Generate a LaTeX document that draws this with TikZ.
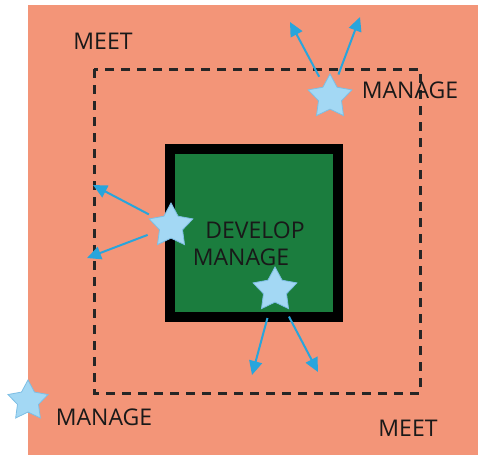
\documentclass[tikz,border=0pt]{standalone}
\usepackage{fontspec}
\setmainfont{Open Sans}
\usetikzlibrary{shapes.geometric,arrows.meta}
\definecolor{salmon}{RGB}{243,149,120}
\definecolor{devgreen}{RGB}{27,125,62}
\definecolor{starfill}{RGB}{163,216,244}
\definecolor{starline}{RGB}{125,190,228}
\definecolor{flowblue}{RGB}{40,165,220}

\begin{document}
\begin{tikzpicture}[x=1pt,y=-1pt,
  mstar/.style={star, star points=5, star point ratio=1.9, minimum size=46pt,
    inner sep=0pt, fill=starfill, draw=starline, line width=0.8pt},
  flow/.style={flowblue, line width=2pt, -{Triangle[length=14pt,width=13pt]},
    shorten <=#1},
  word/.style={font=\fontsize{23}{26}\selectfont, inner sep=0pt, text=black!90}]
  \useasboundingbox (0,0) rectangle (478,459);

  % outer field
  \fill[salmon] (28,5) rectangle (478,455);

  % dashed boundary
  \draw[black!85, line width=3pt, dash pattern=on 9pt off 7pt] (94,69) rectangle (420,393);

  % the developed square
  \draw[line width=10pt, fill=devgreen] (170,149) rectangle (338,317);

  % stars
  \node[mstar] (sa) at (330,97) {};
  \node[mstar] (sb) at (171,226) {};
  \node[mstar] (sc) at (275,290) {};
  \node[mstar, minimum size=42pt] (sd) at (28,401) {};

  % arrow ends
  \coordinate (ta1) at (290,22);
  \coordinate (ta2) at (360,17);
  \coordinate (tb1) at (93,185);
  \coordinate (tb2) at (87,258);
  \coordinate (tc1) at (252,375);
  \coordinate (tc2) at (318,372);

  \foreach \s/\t/\g in {sa/ta1/23pt, sa/ta2/24pt, sb/tb1/25pt, sb/tb2/25pt,
                        sc/tc1/29pt, sc/tc2/30pt}
    \draw[flow=\g] (\s.center) -- (\t);

  % labels
  \node[word] (meetA) at (103,41) {MEET};
  \node[word] (manA) at (410,90) {MANAGE};
  \node[word] (dev) at (255,230) {DEVELOP};
  \node[word] (manB) at (241,257) {MANAGE};
  \node[word] (manC) at (104,417) {MANAGE};
  \node[word] (meetB) at (408,428) {MEET};
\end{tikzpicture}
\end{document}
